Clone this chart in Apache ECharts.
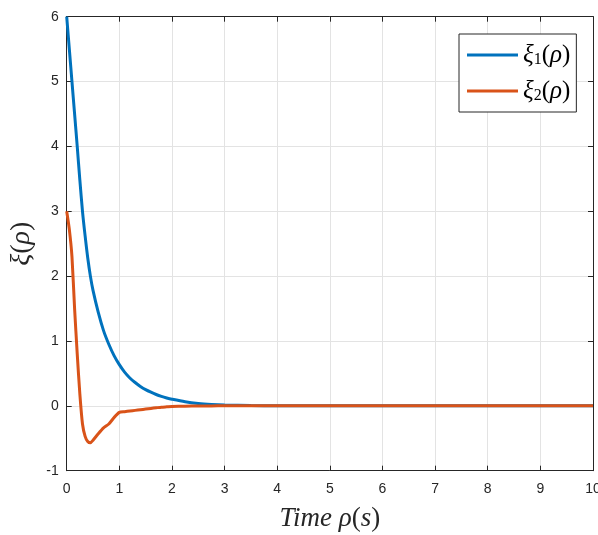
<!DOCTYPE html>
<html>
<head>
<meta charset="utf-8">
<script src="https://cdn.jsdelivr.net/npm/echarts@6/dist/echarts.min.js"></script>
<style>
  html, body { margin: 0; padding: 0; background: #fff; overflow: hidden; }
  #chart { width: 598px; height: 535px; }
</style>
</head>
<body>
<div id="chart"></div>
<script>
// sample times (s)
const time = [0, 0.05, 0.1, 0.15, 0.2, 0.25, 0.3, 0.35, 0.4, 0.45, 0.5,
  0.6, 0.7, 0.8, 0.9, 1.0, 1.1, 1.2, 1.3, 1.4, 1.5, 1.6, 1.7, 1.8, 1.9, 2.0,
  2.25, 2.5, 2.75, 3.0, 3.5, 4, 5, 6, 7, 8, 9, 10];
// state xi_1
const xi1 = [6.0, 5.5, 5.0, 4.5, 4.0, 3.48, 3.0, 2.62, 2.28, 2.0, 1.78,
  1.44, 1.16, 0.95, 0.775, 0.635, 0.52, 0.43, 0.36, 0.30, 0.25, 0.21, 0.175, 0.146, 0.122, 0.102,
  0.062, 0.036, 0.021, 0.012, 0.004, 0.001, 0, 0, 0, 0, 0, 0];
// state xi_2
const xi2 = [3.0, 2.72, 2.3, 1.5, 0.8, 0.18, -0.28, -0.47, -0.55, -0.57, -0.53,
  -0.43, -0.34, -0.28, -0.18, -0.1, -0.09, -0.08, -0.07, -0.06, -0.05, -0.04, -0.03, -0.02, -0.015, -0.01,
  -0.005, -0.002, -0.001, 0, 0, 0, 0, 0, 0, 0, 0, 0];
const xTicks = [0, 10, 1];   // min, max, step
const yTicks = [-1, 6, 1];

const ink = '#262626';
const gridColor = '#e3e3e3';
const tickFont = { color: ink, fontFamily: 'Liberation Sans', fontSize: 14 };
const serif = 'Liberation Serif';

const pairs = arr => time.map((t, i) => [t, arr[i]]);

const legendRich = {
  s: { fontFamily: serif, fontStyle: 'italic', fontSize: 25, color: '#000', lineHeight: 24 },
  sub: { fontFamily: serif, fontSize: 16, color: '#000', padding: [10, 0, 0, 0], lineHeight: 24 },
  p: { fontFamily: serif, fontSize: 25, color: '#000', lineHeight: 24 }
};

const boxAxis = {
  type: 'value',
  axisLine: { show: true, onZero: false, lineStyle: { color: ink, width: 1 } },
  axisTick: { show: true, inside: true, length: 5, lineStyle: { color: ink } }
};

const chart = echarts.init(document.getElementById('chart'), null, { renderer: 'canvas', width: 598, height: 535 });
chart.setOption({
  animation: false,
  backgroundColor: '#fff',
  grid: { left: 66.7, right: 5, top: 16.7, bottom: 64.3, containLabel: false, outerBoundsMode: 'none' },
  legend: {
    orient: 'vertical',
    left: 459, top: 34,
    padding: [8, 6, 8, 8],
    itemGap: 10,
    itemWidth: 51, itemHeight: 3,
    icon: 'rect',
    backgroundColor: '#fff',
    borderColor: ink, borderWidth: 1,
    data: ['xi1', 'xi2'],
    formatter: name => name === 'xi1'
      ? '{s|ξ}{sub|1}{p|(}{s|ρ}{p|)}'
      : '{s|ξ}{sub|2}{p|(}{s|ρ}{p|)}',
    textStyle: { rich: legendRich }
  },
  xAxis: [Object.assign({}, boxAxis, {
    min: xTicks[0], max: xTicks[1], interval: xTicks[2],
    position: 'bottom',
    axisLabel: Object.assign({ margin: 11 }, tickFont),
    splitLine: { show: true, lineStyle: { color: gridColor, width: 1 } },
    name: '{i|Time ρ}{r|(}{i|s}{r|)}',
    nameLocation: 'middle', nameGap: 35,
    nameTextStyle: {
      rich: {
        i: { fontFamily: serif, fontStyle: 'italic', fontSize: 27, color: ink },
        r: { fontFamily: serif, fontSize: 27, color: ink }
      }
    }
  }), Object.assign({}, boxAxis, {
    min: xTicks[0], max: xTicks[1], interval: xTicks[2],
    position: 'top',
    axisLabel: { show: false },
    splitLine: { show: false }
  })],
  yAxis: [Object.assign({}, boxAxis, {
    min: yTicks[0], max: yTicks[1], interval: yTicks[2],
    position: 'left',
    axisLabel: Object.assign({ margin: 8 }, tickFont),
    splitLine: { show: true, lineStyle: { color: gridColor, width: 1 } },
    name: '{i|ξ}{r|(}{i|ρ}{r|)}',
    nameLocation: 'middle', nameGap: 24, nameRotate: 90,
    nameTextStyle: {
      rich: {
        i: { fontFamily: serif, fontStyle: 'italic', fontSize: 28, color: ink },
        r: { fontFamily: serif, fontSize: 28, color: ink }
      }
    }
  }), Object.assign({}, boxAxis, {
    min: yTicks[0], max: yTicks[1], interval: yTicks[2],
    position: 'right',
    axisLabel: { show: false },
    splitLine: { show: false }
  })],
  series: [{
    name: 'xi1', type: 'line', xAxisIndex: 0, yAxisIndex: 0,
    data: pairs(xi1), showSymbol: false, smooth: 0.3,
    lineStyle: { color: '#0072BD', width: 3 }, itemStyle: { color: '#0072BD' }
  }, {
    name: 'xi2', type: 'line', xAxisIndex: 0, yAxisIndex: 0,
    data: pairs(xi2), showSymbol: false, smooth: 0.2,
    lineStyle: { color: '#D95319', width: 3 }, itemStyle: { color: '#D95319' }
  }]
});
</script>
</body>
</html>
